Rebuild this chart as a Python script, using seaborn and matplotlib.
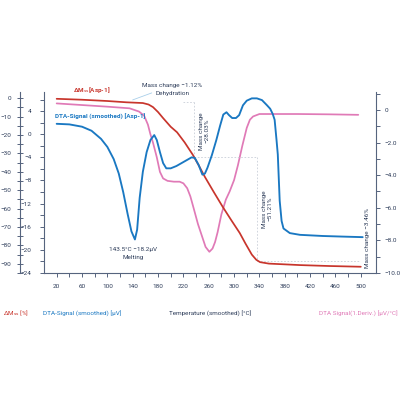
import matplotlib
matplotlib.use("Agg")
import matplotlib.pyplot as plt
import seaborn as sns
import numpy as np
from matplotlib.ticker import FixedLocator, FuncFormatter

sns.set_theme(style="white")
plt.rcParams['font.family'] = ['Roboto', 'DejaVu Sans']
plt.rcParams['mathtext.fontset'] = 'custom'
plt.rcParams['mathtext.rm'] = 'Roboto'
plt.rcParams['mathtext.default'] = 'rm'

# ---------------- data ----------------
temp_mass = [20, 60, 100, 130, 156, 165, 172, 180, 188, 200, 210, 222, 235, 245, 254,
             268, 282, 296, 309, 318, 328, 335, 341, 355, 380, 404, 450, 500]
mass = [-0.3, -0.8, -1.5, -2.2, -2.6, -3.4, -4.8, -7.5, -10.8, -15.5, -18.5, -24, -30.8,
        -37, -42.8, -51, -59, -66.5, -73.3, -79, -85, -87.8, -89.1, -89.9, -90.3, -90.7,
        -91.2, -91.6]

temp_dta = [20, 40, 60, 75, 90, 100, 110, 118, 125, 132, 138, 143.5, 147, 151, 156, 162,
            168, 174, 178, 183, 188, 193, 200, 209, 217, 225, 233, 238, 244, 250, 254,
            258, 265, 272, 278, 283, 288, 292, 297, 303, 308, 314, 320, 328, 336, 344,
            352, 357, 361, 364, 367, 369, 372, 375, 378, 388, 404, 440, 470, 503]
dta = [1.8, 1.7, 1.3, 0.6, -0.8, -2.2, -4.3, -6.8, -10.0, -13.8, -16.8, -18.2, -16.5,
       -11.0, -6.5, -3.1, -1.0, -0.15, -1.0, -3.1, -5.0, -5.9, -5.9, -5.5, -5.0, -4.5,
       -4.0, -4.1, -5.3, -7.0, -6.8, -5.8, -3.6, -1.0, 1.5, 3.4, 3.8, 3.3, 2.8, 2.8, 3.3,
       5.0, 5.8, 6.2, 6.2, 5.9, 5.0, 4.4, 3.5, 2.5, -1.0, -3.5, -11.5, -15.0, -16.3,
       -17.1, -17.4, -17.6, -17.7, -17.8]

temp_deriv = [20, 60, 100, 135, 150, 158, 164, 168, 172, 178, 183, 188, 195, 205, 214,
              220, 226, 231, 236, 243, 249, 255, 261, 266, 270, 274, 280, 287, 293, 300,
              306, 313, 320, 325, 330, 340, 400, 450, 496]
deriv = [0.4, 0.3, 0.2, 0.1, -0.1, -0.35, -0.9, -1.5, -2.0, -2.9, -3.8, -4.2, -4.35,
         -4.4, -4.4, -4.5, -4.8, -5.3, -6.0, -7.0, -7.7, -8.4, -8.7, -8.5, -8.1, -7.5,
         -6.4, -5.5, -5.0, -4.3, -3.4, -2.2, -1.1, -0.6, -0.4, -0.25, -0.25, -0.27, -0.3]

x_ticks = list(range(20, 501, 40))
dta_ticks = list(range(-24, 5, 4))
mass_ticks = list(range(-90, 1, 10))
deriv_ticks = [0, -2, -4, -6, -8, -10]

# ---------------- style ----------------
RED = '#C8352C'
BLUE = '#1A78C2'
PINK = '#E07AB7'
NAVY = '#2E3D5A'
SPINE = '#56647E'
FS = 4.6

fig = plt.figure(figsize=(4, 4), dpi=100)
W, H = 400, 400
L, R, T, B = 44, 376, 92, 273
ax0 = fig.add_axes([L / W, 1 - B / H, (R - L) / W, (B - T) / H])  # pink, right axis + x
ax1 = ax0.twinx()  # outer left, mass
ax2 = ax0.twinx()  # inner left, DTA

sns.lineplot(x=temp_deriv, y=deriv, ax=ax0, color=PINK, linewidth=1.25)
sns.lineplot(x=temp_mass, y=mass, ax=ax1, color=RED, linewidth=1.25)
sns.lineplot(x=temp_dta, y=dta, ax=ax2, color=BLUE, linewidth=1.35)

ax0.set_xlim(0, 524)
ax0.set_ylim(-10, 1.1)
ax1.set_ylim(-95, 3.4)
ax2.set_ylim(-24, 7.3)

for a in (ax0, ax1, ax2):
    for s in a.spines.values():
        s.set_visible(False)
        s.set_color(SPINE)
        s.set_linewidth(0.8)
    a.set_xlabel('')
    a.set_ylabel('')
    a.grid(False)
    a.patch.set_alpha(0)

# x axis on ax0
ax0.spines['bottom'].set_visible(True)
ax0.xaxis.set_major_locator(FixedLocator(x_ticks))
ax0.xaxis.set_minor_locator(FixedLocator(list(range(40, 501, 40))))
ax0.tick_params(axis='x', which='both', bottom=True, direction='out', length=3, width=0.7,
                color=SPINE, labelsize=FS, labelcolor=NAVY, pad=5)

# right axis (pink)
ax0.spines['right'].set_visible(True)
ax0.yaxis.tick_right()
ax0.yaxis.set_major_locator(FixedLocator(deriv_ticks))
ax0.yaxis.set_minor_locator(FixedLocator([1, -1, -3, -5, -7, -9]))
ax0.yaxis.set_major_formatter(FuncFormatter(
    lambda v, p: '0' if abs(v) < 1e-9 else f'{v:.1f}'.replace('-', '\u2212')))
ax0.tick_params(axis='y', which='both', right=True, left=False, direction='out', length=3,
                width=0.7, color=SPINE, labelsize=FS, labelcolor=NAVY, pad=3)

# outer left axis (mass)
ax1.spines['left'].set_visible(True)
ax1.spines['left'].set_position(('axes', -(L - 20) / (R - L)))
ax1.yaxis.tick_left()
ax1.yaxis.set_major_locator(FixedLocator(mass_ticks))
ax1.yaxis.set_minor_locator(FixedLocator(list(range(-95, 4, 10))))
ax1.tick_params(axis='y', which='both', left=True, right=False, direction='inout', length=4,
                width=0.7, color=SPINE, labelsize=FS, labelcolor=NAVY, pad=4)

# inner left axis (DTA)
ax2.spines['left'].set_visible(True)
ax2.yaxis.tick_left()
ax2.yaxis.set_major_locator(FixedLocator(dta_ticks))
ax2.yaxis.set_minor_locator(FixedLocator(list(range(-22, 7, 4))))
ax2.tick_params(axis='y', which='both', left=True, right=False, direction='out', length=3,
                width=0.7, color=SPINE, labelsize=FS, labelcolor=NAVY, pad=6)


def fxy(px, py):
    return px / W, 1 - py / H


# step markers (dashed guides on the mass axis)
guide = dict(color='#C9CED8', linewidth=0.6, linestyle=(0, (2, 2)), zorder=0)
ax1.plot([219, 236], [-2.0, -2.0], **guide)
ax1.plot([236, 236], [-2.0, -32], **guide)
ax1.plot([236, 336], [-32, -32], **guide)
ax1.plot([336, 336], [-32, -88.5], **guide)
ax1.plot([336, 499], [-88.5, -88.5], **guide)

# leader line for dehydration
ax1.plot([140, 170], [-0.9, 2.9], color='#A9CFEA', linewidth=0.6)

# labels inside plot
fig.text(*fxy(73, 90), 'ΔM$_{ss}$[Asp-1]', color=RED, fontsize=FS, fontweight='bold',
         ha='left', va='center')
fig.text(*fxy(55, 117), 'DTA-Signal (smoothed) [Asp-1]', color=BLUE, fontsize=FS,
         fontweight='bold', ha='left', va='center')
fig.text(*fxy(172, 85), 'Mass change \u22121.12%', color=NAVY, fontsize=FS, ha='center',
         va='center')
fig.text(*fxy(172, 93), 'Dehydration', color=NAVY, fontsize=FS, ha='center', va='center')
fig.text(*fxy(133, 249), '143.5°C \u221218.2µV', color=NAVY, fontsize=FS, ha='center',
         va='center')
fig.text(*fxy(133, 258), 'Melting', color=NAVY, fontsize=FS, ha='center', va='center')
fig.text(*fxy(204, 131), 'Mass change\n\u221228.03%', color=NAVY, fontsize=FS,
         ha='center', va='center', rotation=90, linespacing=1.2)
fig.text(*fxy(267, 209), 'Mass change\n\u221251.21%', color=NAVY, fontsize=FS,
         ha='center', va='center', rotation=90, linespacing=1.2)
fig.text(*fxy(368, 238), 'Mass change \u22123.46%', color=NAVY, fontsize=FS,
         ha='center', va='center', rotation=90)

# bottom axis titles
fig.text(*fxy(3, 313), 'ΔM$_{ss}$ [%]', color=RED, fontsize=FS, ha='left', va='center')
fig.text(*fxy(43, 313), 'DTA-Signal (smoothed) [µV]', color=BLUE, fontsize=FS,
         ha='left', va='center')
fig.text(*fxy(169, 313), 'Temperature (smoothed) [°C]', color=NAVY, fontsize=FS,
         ha='left', va='center')
fig.text(*fxy(398, 313), 'DTA Signal(1.Deriv.) [µV/°C]', color=PINK, fontsize=FS,
         ha='right', va='center')

fig.savefig('out.png', dpi=100, facecolor='white')
